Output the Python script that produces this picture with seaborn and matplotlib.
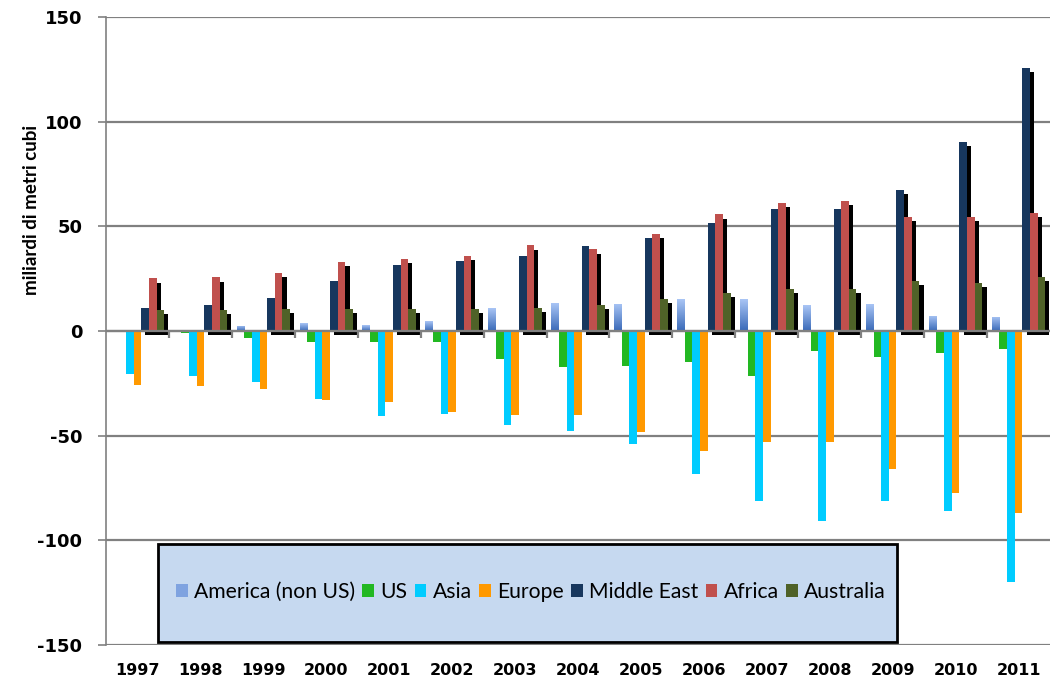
import numpy as np
import pandas as pd
import matplotlib
matplotlib.use("Agg")
import matplotlib.pyplot as plt
import matplotlib.patheffects as pe
from matplotlib.patches import Patch, Rectangle
from matplotlib.colors import LinearSegmentedColormap
import seaborn as sns

plt.rcParams["axes.unicode_minus"] = False

years = ["1997", "1998", "1999", "2000", "2001", "2002", "2003", "2004",
         "2005", "2006", "2007", "2008", "2009", "2010", "2011"]
regions = ["America (non US)", "US", "Asia", "Europe", "Middle East", "Africa", "Australia"]
colors = ["#6F97D8", "#22B822", "#00CCFF", "#FF9900", "#17375E", "#C0504D", "#4F6228"]

america = [0.2, 0.3, 2.4, 3.8, 2.8, 4.7, 10.9, 13.3, 12.9, 15.2, 15.2, 12.3, 12.8, 7.3, 6.8]
us = [-0.7, -1.0, -3.4, -5.2, -5.2, -5.2, -13.2, -17.0, -16.5, -14.6, -21.7, -9.7, -12.6, -10.6, -8.7]
asia = [-20.5, -21.4, -24.3, -32.4, -40.5, -39.8, -45.1, -48.0, -54.1, -68.1, -81.4, -90.9, -81.4, -86.2, -119.8]
europe = [-25.9, -26.2, -27.6, -32.9, -33.8, -38.9, -40.3, -40.3, -48.4, -57.5, -53.2, -53.2, -65.9, -77.4, -86.9]
middle_east = [10.8, 12.4, 15.7, 23.8, 31.4, 33.3, 35.7, 40.5, 44.3, 51.4, 58.3, 58.3, 67.2, 90.5, 125.7]
africa = [25.1, 25.6, 27.6, 32.9, 34.3, 35.7, 40.9, 39.0, 46.2, 55.7, 61.2, 62.2, 54.6, 54.6, 56.5]
australia = [10.0, 10.0, 10.5, 10.5, 10.5, 10.5, 10.9, 12.4, 15.2, 18.3, 20.2, 20.2, 24.1, 23.1, 26.0]

series = [america, us, asia, europe, middle_east, africa, australia]
df = pd.DataFrame([
    {"year": y, "region": r, "value": v}
    for r, vals in zip(regions, series) for y, v in zip(years, vals)
])

fig = plt.figure(figsize=(10.5, 6.88), dpi=100)
ax = fig.add_axes([106 / 1050, 1 - 645 / 688, 944 / 1050, 628 / 688])

sns.barplot(data=df, x="year", y="value", hue="region", hue_order=regions,
            order=years, palette=colors, width=0.85, saturation=1,
            linewidth=0, legend=False, ax=ax, zorder=3)

# black drop shadow on the last three series
shadow = [pe.SimplePatchShadow(offset=(3, -3), shadow_rgbFace="black", alpha=1), pe.Normal()]
for cont in ax.containers[4:]:
    for bar in cont:
        bar.set_path_effects(shadow)

# gradient fill for America (non US)
cmap = LinearSegmentedColormap.from_list("am", ["#3A6AB8", "#A9C5F5"])
grad = np.linspace(0, 1, 64).reshape(-1, 1)
for bar in ax.containers[0]:
    x0, y0 = bar.get_x(), bar.get_y()
    w, h = bar.get_width(), bar.get_height()
    if h <= 0:
        continue
    bar.set_facecolor("none")
    im = ax.imshow(grad, cmap=cmap, aspect="auto", origin="lower",
                   extent=(x0, x0 + w, y0, y0 + h), zorder=3)
    im.set_clip_path(bar)

ax.set_xlim(-0.5, len(years) - 0.5)
ax.set_ylim(-150, 150)
ax.set_yticks(range(-150, 151, 50))
ax.grid(axis="y", color="#808080", linewidth=1.6, zorder=0)
ax.grid(axis="x", visible=False)
ax.set_axisbelow(True)

for s in ["top", "right", "bottom"]:
    ax.spines[s].set_visible(False)
ax.spines["left"].set_color("#808080")
ax.spines["left"].set_linewidth(1.2)

# category axis at zero with boundary ticks
ax.axhline(0, color="#808080", linewidth=1.6, zorder=4)
ax.vlines(np.arange(0.5, len(years) - 0.5), -3.5, 0, color="#808080", linewidth=1.6, zorder=4)

ax.tick_params(axis="y", length=6, width=1.2, color="#808080", labelsize=13, pad=11)
ax.tick_params(axis="x", length=0, labelsize=11.5, pad=13)
for lab in ax.get_yticklabels() + ax.get_xticklabels():
    lab.set_fontweight("bold")

ax.set_xlabel("")
ax.set_ylabel("miliardi di metri cubi", fontsize=13.5, fontweight="bold", family="Lato")
ax.yaxis.set_label_coords(-0.070, 0.693)

# legend box
ax.add_patch(Rectangle((158, 46), 739, 98, transform=None, facecolor="#C6D9F0",
                       edgecolor="black", linewidth=2, zorder=6))
handles = [Patch(facecolor=c, edgecolor="none") for c in colors]
handles[0] = Patch(facecolor="#7FA3E0", edgecolor="none")
leg = ax.legend(handles, regions, loc="center", bbox_to_anchor=((531 - 106) / 944, (645 - 592) / 628),
                ncol=7, frameon=False, handlelength=0.55, handleheight=0.6,
                handletextpad=0.3, columnspacing=0.35, prop={"family": "Lato", "size": 15.2})
leg.set_zorder(7)

fig.savefig("out.png", dpi=100)
